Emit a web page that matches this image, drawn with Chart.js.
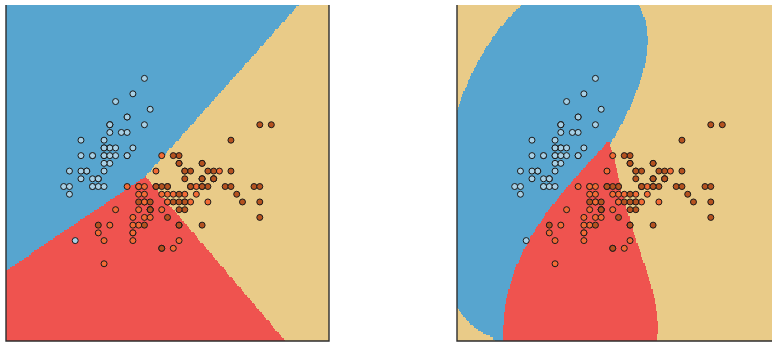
<!DOCTYPE html>
<html>
<head>
<meta charset="utf-8">
<script src="https://cdn.jsdelivr.net/npm/chart.js@4"></script>
<style>
  html, body { margin: 0; padding: 0; background: #ffffff; width: 772px; height: 347px; overflow: hidden; }
  #wrap { position: relative; width: 772px; height: 347px; overflow: hidden; }
  canvas { position: absolute; top: 0; }
  #linear { left: 0; }
  #rbf { left: 451px; }
</style>
</head>
<body>
<div id="wrap">
  <canvas id="linear" width="340" height="347"></canvas>
  <canvas id="rbf" width="340" height="347"></canvas>
</div>
<script>
// Iris sepal measurements (cm), one pair of arrays per species
const setosaLength = [5.1,4.9,4.7,4.6,5.0,5.4,4.6,5.0,4.4,4.9,5.4,4.8,4.8,4.3,5.8,5.7,5.4,5.1,5.7,5.1,5.4,5.1,4.6,5.1,4.8,5.0,5.0,5.2,5.2,4.7,4.8,5.4,5.2,5.5,4.9,5.0,5.5,4.9,4.4,5.1,5.0,4.5,4.4,5.0,5.1,4.8,5.1,4.6,5.3,5.0];
const setosaWidth  = [3.5,3.0,3.2,3.1,3.6,3.9,3.4,3.4,2.9,3.1,3.7,3.4,3.0,3.0,4.0,4.4,3.9,3.5,3.8,3.8,3.4,3.7,3.6,3.3,3.4,3.0,3.4,3.5,3.4,3.2,3.1,3.4,4.1,4.2,3.1,3.2,3.5,3.1,3.0,3.4,3.5,2.3,3.2,3.5,3.8,3.0,3.8,3.2,3.7,3.3];
const versicolorLength = [7.0,6.4,6.9,5.5,6.5,5.7,6.3,4.9,6.6,5.2,5.0,5.9,6.0,6.1,5.6,6.7,5.6,5.8,6.2,5.6,5.9,6.1,6.3,6.1,6.4,6.6,6.8,6.7,6.0,5.7,5.5,5.5,5.8,6.0,5.4,6.0,6.7,6.3,5.6,5.5,5.5,6.1,5.8,5.0,5.6,5.7,5.7,6.2,5.1,5.7];
const versicolorWidth  = [3.2,3.2,3.1,2.3,2.8,2.8,3.3,2.4,2.9,2.7,2.0,3.0,2.2,2.9,2.9,3.1,3.0,2.7,2.2,2.5,3.2,2.8,2.5,2.8,2.9,3.0,2.8,3.0,2.9,2.6,2.4,2.4,2.7,2.7,3.0,3.4,3.1,2.3,3.0,2.5,2.6,3.0,2.6,2.3,2.7,3.0,2.9,2.9,2.5,2.8];
const virginicaLength = [6.3,5.8,7.1,6.3,6.5,7.6,4.9,7.3,6.7,7.2,6.5,6.4,6.8,5.7,5.8,6.4,6.5,7.7,7.7,6.0,6.9,5.6,7.7,6.3,6.7,7.2,6.2,6.1,6.4,7.2,7.4,7.9,6.4,6.3,6.1,7.7,6.3,6.4,6.0,6.9,6.7,6.9,5.8,6.8,6.7,6.7,6.3,6.5,6.2,5.9];
const virginicaWidth  = [3.3,2.7,3.0,2.9,3.0,3.0,2.5,2.9,2.5,3.6,3.2,2.7,3.0,2.5,2.8,3.2,3.0,3.8,2.6,2.2,3.2,2.8,2.8,2.7,3.3,3.2,2.8,3.0,2.8,3.0,2.8,3.8,2.8,2.8,2.6,3.0,3.4,3.1,3.0,3.1,3.1,3.1,2.7,3.2,3.3,3.0,2.5,3.0,3.4,3.0];

const speciesNames = ['setosa', 'versicolor', 'virginica'];
const pointColors  = ['#a7d0e6', '#f26b35', '#b5521f'];
const regionColors = ['#57a5cf', '#ef534f', '#e9cb88'];

const classes = [
  { x: setosaLength, y: setosaWidth },
  { x: versicolorLength, y: versicolorWidth },
  { x: virginicaLength, y: virginicaWidth }
];
const C = 1.0;        // penalty parameter shared by both classifiers
const GAMMA = 0.7;    // RBF kernel width

// ---------- linear SVM, one-vs-rest, squared hinge loss (bias regularized) ----------
function solve3(H, g) {
  const A = H.map((r, i) => r.concat([g[i]]));
  for (let c = 0; c < 3; c++) {
    let p = c;
    for (let r = c + 1; r < 3; r++) if (Math.abs(A[r][c]) > Math.abs(A[p][c])) p = r;
    [A[c], A[p]] = [A[p], A[c]];
    for (let r = 0; r < 3; r++) if (r !== c) {
      const f = A[r][c] / A[c][c];
      for (let k = c; k < 4; k++) A[r][k] -= f * A[c][k];
    }
  }
  return [A[0][3] / A[0][0], A[1][3] / A[1][1], A[2][3] / A[2][2]];
}

function fitSquaredHinge(Z, Y) {
  let w = [0, 0, 0];
  const obj = w => {
    let s = 0.5 * (w[0] * w[0] + w[1] * w[1] + w[2] * w[2]);
    for (let i = 0; i < Z.length; i++) {
      const m = Y[i] * (w[0] * Z[i][0] + w[1] * Z[i][1] + w[2] * Z[i][2]);
      const e = Math.max(0, 1 - m);
      s += C * e * e;
    }
    return s;
  };
  for (let it = 0; it < 200; it++) {
    const g = w.slice();
    const H = [[1, 0, 0], [0, 1, 0], [0, 0, 1]];
    for (let i = 0; i < Z.length; i++) {
      const z = Z[i];
      const m = Y[i] * (w[0] * z[0] + w[1] * z[1] + w[2] * z[2]);
      if (m >= 1) continue;
      const gc = -2 * C * (1 - m) * Y[i];
      for (let a = 0; a < 3; a++) {
        g[a] += gc * z[a];
        for (let b = 0; b < 3; b++) H[a][b] += 2 * C * z[a] * z[b];
      }
    }
    if (Math.hypot(g[0], g[1], g[2]) < 1e-10) break;
    const d = solve3(H, g);
    const f0 = obj(w), slope = g[0] * d[0] + g[1] * d[1] + g[2] * d[2];
    let t = 1;
    while (t > 1e-12) {
      const wn = [w[0] - t * d[0], w[1] - t * d[1], w[2] - t * d[2]];
      if (obj(wn) <= f0 - 1e-4 * t * slope) { w = wn; break; }
      t *= 0.5;
    }
  }
  return w;
}

function fitLinearOvR() {
  const Z = [], lab = [];
  classes.forEach((c, k) => c.x.forEach((v, i) => { Z.push([v, c.y[i], 1]); lab.push(k); }));
  const W = classes.map((c, k) => fitSquaredHinge(Z, lab.map(l => (l === k ? 1 : -1))));
  return (px, py) => {
    let best = 0, bs = -Infinity;
    W.forEach((w, k) => { const s = w[0] * px + w[1] * py + w[2]; if (s > bs) { bs = s; best = k; } });
    return best;
  };
}

// ---------- kernel SVM (SMO), one-vs-one voting ----------
const rbfKernel = (a, b) => {
  const dx = a[0] - b[0], dy = a[1] - b[1];
  return Math.exp(-GAMMA * (dx * dx + dy * dy));
};

function trainBinary(X, Y, kernel) {
  const n = X.length, eps = 1e-3, TAU = 1e-12;
  const K = X.map(a => X.map(b => kernel(a, b)));
  const alpha = new Float64Array(n);
  const G = new Float64Array(n).fill(-1);
  for (let iter = 0; iter < 200000; iter++) {
    let Gmax = -Infinity, Gmax2 = -Infinity, i = -1, j = -1, objMin = Infinity;
    for (let t = 0; t < n; t++) {
      if (Y[t] === 1) { if (alpha[t] < C && -G[t] >= Gmax) { Gmax = -G[t]; i = t; } }
      else { if (alpha[t] > 0 && G[t] >= Gmax) { Gmax = G[t]; i = t; } }
    }
    if (i < 0) break;
    for (let t = 0; t < n; t++) {
      let gd;
      if (Y[t] === 1) {
        if (!(alpha[t] > 0)) continue;
        gd = Gmax + G[t];
        if (G[t] >= Gmax2) Gmax2 = G[t];
      } else {
        if (!(alpha[t] < C)) continue;
        gd = Gmax - G[t];
        if (-G[t] >= Gmax2) Gmax2 = -G[t];
      }
      if (gd > 0) {
        let qc = K[i][i] + K[t][t] - 2 * K[i][t];
        if (qc <= 0) qc = TAU;
        const obj = -(gd * gd) / qc;
        if (obj <= objMin) { objMin = obj; j = t; }
      }
    }
    if (Gmax + Gmax2 < eps || j < 0) break;

    const oi = alpha[i], oj = alpha[j];
    let qc = K[i][i] + K[j][j] - 2 * K[i][j];
    if (qc <= 0) qc = TAU;
    if (Y[i] !== Y[j]) {
      const delta = (-G[i] - G[j]) / qc;
      const diff = alpha[i] - alpha[j];
      alpha[i] += delta; alpha[j] += delta;
      if (diff > 0) { if (alpha[j] < 0) { alpha[j] = 0; alpha[i] = diff; } }
      else { if (alpha[i] < 0) { alpha[i] = 0; alpha[j] = -diff; } }
      if (diff > 0) { if (alpha[i] > C) { alpha[i] = C; alpha[j] = C - diff; } }
      else { if (alpha[j] > C) { alpha[j] = C; alpha[i] = C + diff; } }
    } else {
      const delta = (G[i] - G[j]) / qc;
      const sum = alpha[i] + alpha[j];
      alpha[i] -= delta; alpha[j] += delta;
      if (sum > C) { if (alpha[i] > C) { alpha[i] = C; alpha[j] = sum - C; } }
      else { if (alpha[j] < 0) { alpha[j] = 0; alpha[i] = sum; } }
      if (sum > C) { if (alpha[j] > C) { alpha[j] = C; alpha[i] = sum - C; } }
      else { if (alpha[i] < 0) { alpha[i] = 0; alpha[j] = sum; } }
    }
    const dai = alpha[i] - oi, daj = alpha[j] - oj;
    for (let k = 0; k < n; k++) {
      G[k] += Y[i] * Y[k] * K[i][k] * dai + Y[j] * Y[k] * K[j][k] * daj;
    }
  }
  let ub = Infinity, lb = -Infinity, nFree = 0, sumFree = 0;
  for (let t = 0; t < n; t++) {
    const yG = Y[t] * G[t];
    if (alpha[t] >= C) { if (Y[t] === -1) ub = Math.min(ub, yG); else lb = Math.max(lb, yG); }
    else if (alpha[t] <= 0) { if (Y[t] === 1) ub = Math.min(ub, yG); else lb = Math.max(lb, yG); }
    else { nFree++; sumFree += yG; }
  }
  const rho = nFree > 0 ? sumFree / nFree : (ub + lb) / 2;
  const sv = [], coef = [];
  for (let t = 0; t < n; t++) if (alpha[t] > 0) { sv.push(X[t]); coef.push(alpha[t] * Y[t]); }
  return p => {
    let s = -rho;
    for (let t = 0; t < sv.length; t++) s += coef[t] * kernel(sv[t], p);
    return s;
  };
}

function trainOneVsOne(kernel) {
  const pts = classes.map(c => c.x.map((v, i) => [v, c.y[i]]));
  const machines = [];
  for (let a = 0; a < classes.length; a++) {
    for (let b = a + 1; b < classes.length; b++) {
      const X = pts[a].concat(pts[b]);
      const Y = pts[a].map(() => 1).concat(pts[b].map(() => -1));
      machines.push({ a, b, f: trainBinary(X, Y, kernel) });
    }
  }
  return (px, py) => {
    const votes = [0, 0, 0];
    for (const m of machines) votes[m.f([px, py]) > 0 ? m.a : m.b]++;
    let best = 0;
    for (let k = 1; k < votes.length; k++) if (votes[k] > votes[best]) best = k;
    return best;
  };
}

// Paints the predicted class over a 0.02 mesh of the plotting area, then the frame
const regionPlugin = {
  id: 'regions',
  beforeDatasetsDraw(chart, args, opts) {
    const { ctx, chartArea: a, scales: { x, y } } = chart;
    const step = opts.step;
    ctx.save();
    ctx.beginPath();
    ctx.rect(a.left, a.top, a.right - a.left, a.bottom - a.top);
    ctx.clip();
    const nx = Math.ceil((x.max - x.min) / step);
    const ny = Math.ceil((y.max - y.min) / step);
    for (let i = 0; i < nx; i++) {
      const x0 = x.min + i * step;
      const px0 = Math.floor(x.getPixelForValue(x0));
      const px1 = Math.ceil(x.getPixelForValue(x0 + step));
      for (let j = 0; j < ny; j++) {
        const y0 = y.min + j * step;
        const py0 = Math.ceil(y.getPixelForValue(y0));
        const py1 = Math.floor(y.getPixelForValue(y0 + step));
        ctx.fillStyle = regionColors[opts.predict(x0 + step / 2, y0 + step / 2)];
        ctx.fillRect(px0, py1, px1 - px0, py0 - py1);
      }
    }
    ctx.restore();
  },
  afterDraw(chart) {
    const { ctx, chartArea: a } = chart;
    ctx.save();
    ctx.strokeStyle = '#2e2e2e';
    ctx.lineWidth = 1.4;
    ctx.beginPath();
    ctx.moveTo(a.left, a.top);
    ctx.lineTo(a.left, a.bottom);
    ctx.lineTo(a.right, a.bottom);
    ctx.lineTo(a.right, a.top);
    ctx.stroke();
    ctx.restore();
  }
};

function makeDatasets() {
  // later species are drawn on top of earlier ones
  return classes.map((c, k) => ({
    label: speciesNames[k],
    data: c.x.map((v, i) => ({ x: v, y: c.y[i] })),
    backgroundColor: pointColors[k],
    borderColor: '#1a1a1a',
    borderWidth: 1,
    pointRadius: 3,
    order: classes.length - k
  }));
}

function makeChart(id, predict) {
  return new Chart(document.getElementById(id), {
    type: 'scatter',
    data: { datasets: makeDatasets() },
    options: {
      responsive: false,
      animation: false,
      layout: { padding: { left: 6, right: 11, top: 0, bottom: 6 } },
      scales: {
        x: { type: 'linear', min: 3.3, max: 8.9, display: false },
        y: { type: 'linear', min: 1.0, max: 5.35, display: false }
      },
      plugins: {
        legend: { display: false },
        tooltip: { enabled: false },
        regions: { step: 0.02, predict: predict }
      }
    },
    plugins: [regionPlugin]
  });
}

makeChart('linear', fitLinearOvR());
makeChart('rbf', trainOneVsOne(rbfKernel));
</script>
</body>
</html>
